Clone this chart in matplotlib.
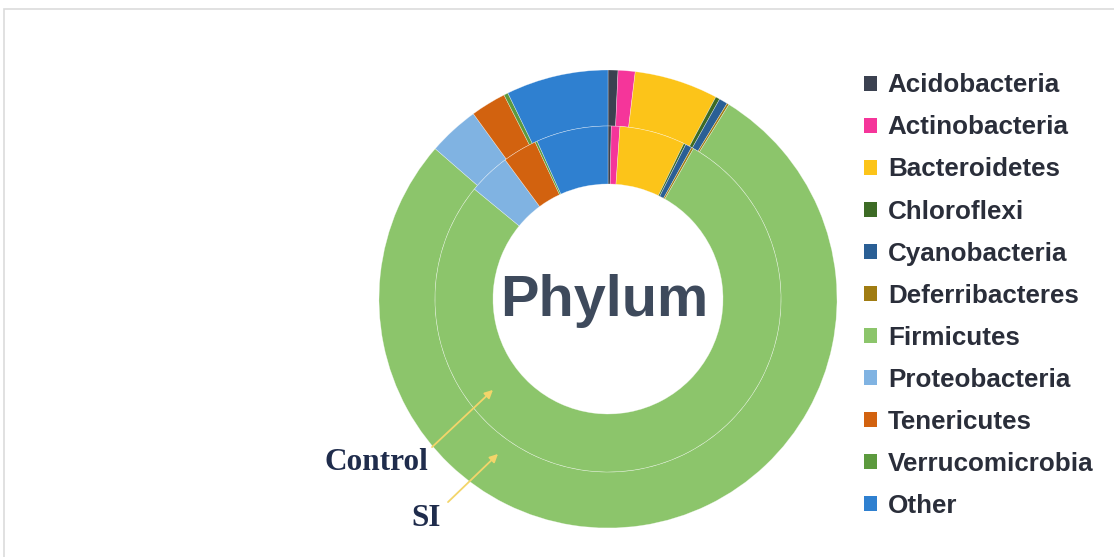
import matplotlib.pyplot as plt
from matplotlib.patches import Patch, Rectangle

# phylum shares (%), read clockwise from 12 o'clock
phyla = ["Acidobacteria", "Actinobacteria", "Bacteroidetes", "Chloroflexi",
         "Cyanobacteria", "Deferribacteres", "Firmicutes", "Proteobacteria",
         "Tenericutes", "Verrucomicrobia", "Other"]
control = [0.3, 0.8, 6.1, 0.2, 0.6, 0.2, 77.5, 3.9, 3.2, 0.2, 6.7]
si = [0.7, 1.2, 5.9, 0.3, 0.6, 0.15, 77.5, 3.6, 2.5, 0.3, 7.2]

colors = ["#3b4150", "#f5359a", "#fcc419", "#3d6b25", "#2a5f95", "#a07c12",
          "#8cc56b", "#80b3e2", "#d2620f", "#5c9a3e", "#2f80d0"]

W, H = 1114, 557
fig = plt.figure(figsize=(W / 100, H / 100), dpi=100)
ax = fig.add_axes([0, 0, 1, 1])

# faint frame like the original export
ax.add_patch(Rectangle((4, -5), W + 10, H - 9 + 5, fill=False,
                       edgecolor="#dcdcdc", linewidth=1.2))

cx, cy = 608, H - 299
# outer ring = SI, inner ring = Control
ax.pie(si, colors=colors, radius=229, center=(cx, cy), startangle=90,
       counterclock=False, frame=True,
       wedgeprops=dict(width=56, edgecolor=(1, 1, 1, 0.5), linewidth=0.4))
ax.pie(control, colors=colors, radius=173, center=(cx, cy), startangle=90,
       counterclock=False, frame=True,
       wedgeprops=dict(width=58, edgecolor=(1, 1, 1, 0.5), linewidth=0.4))
ax.set_xlim(0, W)
ax.set_ylim(0, H)
ax.set_aspect("equal")
ax.axis("off")

ax.text(cx - 4, cy - 2, "Phylum", ha="center", va="center", fontsize=41.5,
        fontweight="bold", color="#3e4a5c", family="Liberation Sans")

# ring labels with arrows
arrow = dict(arrowstyle="-|>", color="#f3d56a", lw=1.3, mutation_scale=12)
ax.annotate("", xy=(495, H - 388), xytext=(430, H - 449), arrowprops=arrow)
ax.annotate("", xy=(500, H - 452), xytext=(446, H - 504), arrowprops=arrow)
ax.text(376, H - 462, "Control", ha="center", va="center", fontsize=22.5,
        fontweight="bold", color="#1f2c4c", family="Liberation Serif")
ax.text(426, H - 518, "SI", ha="center", va="center", fontsize=22.5,
        fontweight="bold", color="#1f2c4c", family="Liberation Serif")

handles = [Patch(facecolor=c, edgecolor="none") for c in colors]
leg = ax.legend(handles, phyla, loc="upper left", bbox_to_anchor=(854 / W, 1 - 63 / H),
                frameon=False, handlelength=0.5, handleheight=0.5,
                handletextpad=0.4, labelspacing=0.695, borderaxespad=0,
                prop=dict(family="Liberation Sans", weight="bold", size=18.7))
for t in leg.get_texts():
    t.set_color("#2a2e3a")

fig.savefig("out.png", dpi=100)
